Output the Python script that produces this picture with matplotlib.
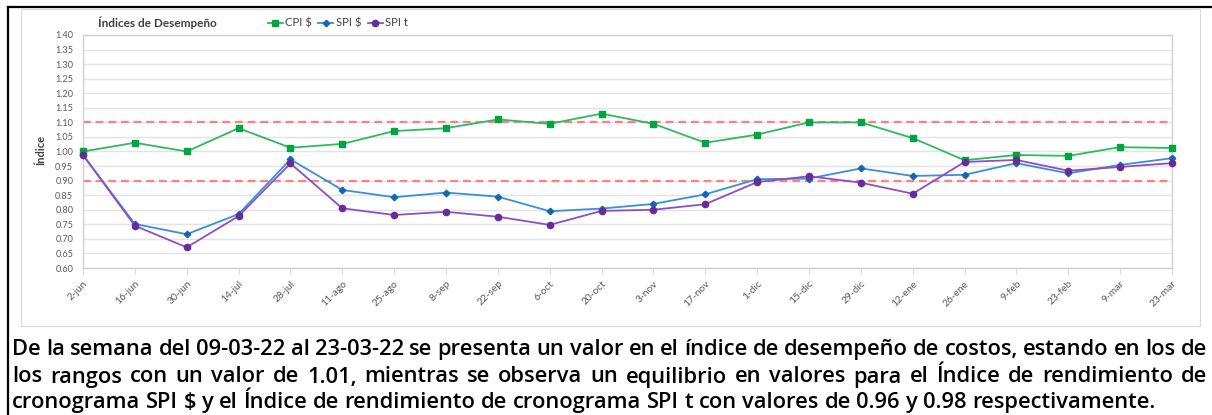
import matplotlib
matplotlib.use('Agg')
import matplotlib.pyplot as plt
from matplotlib.lines import Line2D
from matplotlib.patches import Rectangle

# ---------------- data ----------------
dates = ['2-jun', '16-jun', '30-jun', '14-jul', '28-jul', '11-ago', '25-ago', '8-sep',
         '22-sep', '6-oct', '20-oct', '3-nov', '17-nov', '1-dic', '15-dic', '29-dic',
         '12-ene', '26-ene', '9-feb', '23-feb', '9-mar', '23-mar']
cpi = [1.00, 1.03, 1.00, 1.08, 1.013, 1.026, 1.07, 1.08, 1.11, 1.095, 1.13, 1.095,
       1.03, 1.058, 1.10, 1.10, 1.046, 0.97, 0.988, 0.985, 1.015, 1.012]
spi_d = [0.988, 0.751, 0.716, 0.785, 0.973, 0.868, 0.843, 0.859, 0.845, 0.795, 0.804,
         0.82, 0.853, 0.905, 0.907, 0.942, 0.916, 0.92, 0.96, 0.925, 0.954, 0.977]
spi_t = [0.988, 0.745, 0.671, 0.778, 0.959, 0.805, 0.782, 0.793, 0.776, 0.748, 0.796,
         0.80, 0.819, 0.895, 0.915, 0.893, 0.855, 0.964, 0.971, 0.934, 0.947, 0.96]
limits = [1.10, 0.90]
yticks = [0.60 + 0.05 * i for i in range(17)]
series_names = ['CPI $', 'SPI $', 'SPI t']
title = 'Índices de Desempeño'
ylabel = 'Índice'
paragraph = [
    'De la semana del 09-03-22 al 23-03-22 se presenta un valor en el índice de desempeño de costos, estando en los de',
    'los rangos con un valor de 1.01, mientras se observa un equilibrio en valores para el Índice de rendimiento de',
    'cronograma SPI $ y el Índice de rendimiento de cronograma SPI t con valores de 0.96 y 0.98 respectivamente.',
]

# ---------------- figure ----------------
W, H = 1212, 415
fig = plt.figure(figsize=(W / 100, H / 100), dpi=100)
fig.patch.set_facecolor('white')

def fx(px):
    return px / W

def fy(py):
    return 1 - py / H

# outer frame (black, left + top)
fig.add_artist(Line2D([fx(7.5), fx(7.5)], [fy(7), fy(415)], color='black', lw=1.6))
fig.add_artist(Line2D([fx(7.5), fx(1212)], [fy(7), fy(7)], color='black', lw=1.6))
# chart area frame (light grey)
fig.add_artist(Rectangle((fx(21), fy(326)), fx(1200) - fx(21), fy(9) - fy(326),
                         fill=False, edgecolor='#d9d9d9', lw=0.8))

ax = fig.add_axes([fx(83), fy(268), fx(1172) - fx(83), fy(35) - fy(268)])
xs = list(range(len(dates)))
ax.set_xlim(0, len(dates) - 1)
ax.set_ylim(0.60, 1.40)
ax.set_yticks(yticks)
ax.set_yticklabels([f'{v:.2f}' for v in yticks])
ax.set_xticks(xs)
ax.set_xticklabels(dates, rotation=45, ha='right', va='top', rotation_mode='anchor')
ax.tick_params(axis='y', length=0, pad=7, labelsize=6.6, labelcolor='#595959')
ax.tick_params(axis='x', length=4, width=0.8, color='#d9d9d9', pad=4,
               labelsize=7.4, labelcolor='#595959')
for lab in ax.get_xticklabels() + ax.get_yticklabels():
    lab.set_family('Lato')
ax.grid(axis='y', color='#e3e3e3', lw=1.0)
ax.set_axisbelow(True)
for s in ax.spines.values():
    s.set_color('#d0d0d0')
    s.set_linewidth(1.0)

for lv in limits:
    ax.axhline(lv, color='#ff8080', lw=1.6, dashes=(3.5, 2.2), zorder=2)

l1, = ax.plot(xs, cpi, color='#2dbb5d', lw=1.3, marker='s', ms=5,
              mfc='#00a443', mec='#00a443', zorder=4, clip_on=False)
l2, = ax.plot(xs, spi_d, color='#3a8fd8', lw=1.3, marker='D', ms=3.3,
              mfc='#1565b0', mec='#1565b0', zorder=4, clip_on=False)
l3, = ax.plot(xs, spi_t, color='#8e4fc0', lw=1.3, marker='o', ms=4.5,
              mfc='#6a2b9a', mec='#6a2b9a', zorder=4, clip_on=False)

fig.text(fx(98), fy(23), title, fontsize=8.5, fontweight='bold', family='Lato',
         color='#404040', va='center', ha='left')
fig.text(fx(41), fy(150), ylabel, fontsize=8, fontweight='bold', family='Lato',
         color='#404040', va='center', ha='center', rotation=90)

leg = fig.legend([l1, l2, l3], series_names, loc='center left',
                 bbox_to_anchor=(fx(262), fy(23)), ncol=3, frameon=False,
                 handlelength=1.3, handletextpad=0.2,
                 columnspacing=0.6, borderpad=0, prop={'family': 'Lato', 'size': 8.2})
for t in leg.get_texts():
    t.set_color('#404040')

# ---------------- paragraph (justified) ----------------
fig.canvas.draw()
renderer = fig.canvas.get_renderer()
PFONT = 'Open Sans'
PWEIGHT = 'semibold'
# pick font size so that the (unjustified) last line spans like the reference
probe = fig.text(0, 0, paragraph[-1], fontsize=10, fontweight=PWEIGHT, family=PFONT)
w10 = probe.get_window_extent(renderer).width
probe.remove()
fsize = 10 * (1160 - 12) / w10

line_y = [349, 377, 402]
x0, x1 = 12, 1207
for i, (line, yy) in enumerate(zip(paragraph, line_y)):
    words = line.split(' ')
    texts = [fig.text(0, fy(yy), w, fontsize=fsize, fontweight=PWEIGHT, family=PFONT,
                      color='black', va='center', ha='left') for w in words]
    widths = [t.get_window_extent(renderer).width for t in texts]
    if i < len(paragraph) - 1:
        gap = (x1 - x0 - sum(widths)) / (len(words) - 1)
    else:
        sp = fig.text(0, 0, 'a a', fontsize=fsize, fontweight=PWEIGHT, family=PFONT)
        sp2 = fig.text(0, 0, 'aa', fontsize=fsize, fontweight=PWEIGHT, family=PFONT)
        gap = sp.get_window_extent(renderer).width - sp2.get_window_extent(renderer).width
        sp.remove(); sp2.remove()
    pos = x0
    for t, w in zip(texts, widths):
        t.set_x(fx(pos))
        pos += w + gap

fig.savefig('out.png', dpi=100)
